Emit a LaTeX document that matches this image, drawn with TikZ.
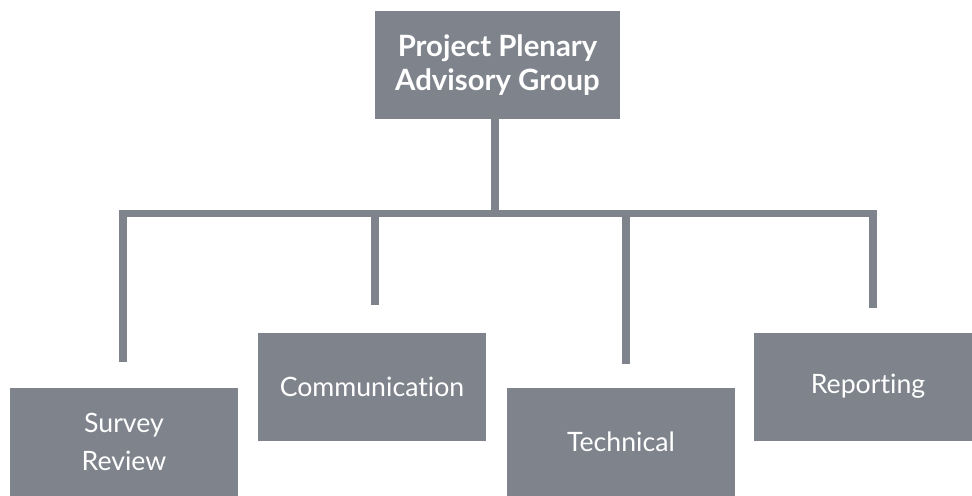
\documentclass[tikz,border=0pt]{standalone}
\usepackage{fontspec}
\setmainfont{Lato}[Ligatures={NoCommon}]
\usepackage{tikz}
\definecolor{boxgray}{HTML}{7E838C}

\begin{document}
\begin{tikzpicture}[
  x=0.75pt, y=-0.75pt,
  unit/.style={
    rectangle, fill=boxgray, text=white, inner sep=0pt,
    minimum width=171pt, minimum height=81pt,
    align=center, font=\fontsize{20}{28}\selectfont,
  },
  head/.style={
    unit, minimum width=184pt,
    font=\fontsize{22}{25}\selectfont\bfseries,
  },
  link/.style={draw=boxgray, line width=5.6pt, line join=miter},
]
\clip (0,0) rectangle (972,496);

% top of the chart
\node[head] (plenary) at (497.5,65) {Project Plenary\\Advisory Group};

% working groups
\node[unit] (survey) at (124,442) {Survey\\Review};
\node[unit] (comm)   at (372,386.5) {Communication};
\node[unit] (tech)   at (621,442) {Technical};
\node[unit] (report) at (868,386.5) {Reporting};

% junction and free ends of the drops
\coordinate (hub) at (495,213.5);
\coordinate (surveyend) at (123,362);
\coordinate (commend)   at (375,305);
\coordinate (techend)   at (626,364);
\coordinate (reportend) at (873,308);

\draw[link] (plenary.south -| hub) -- (hub);
\draw[link] (surveyend) |- (hub) -| (reportend);
\draw[link] (commend |- hub) -- (commend);
\draw[link] (techend |- hub) -- (techend);

\end{tikzpicture}
\end{document}
